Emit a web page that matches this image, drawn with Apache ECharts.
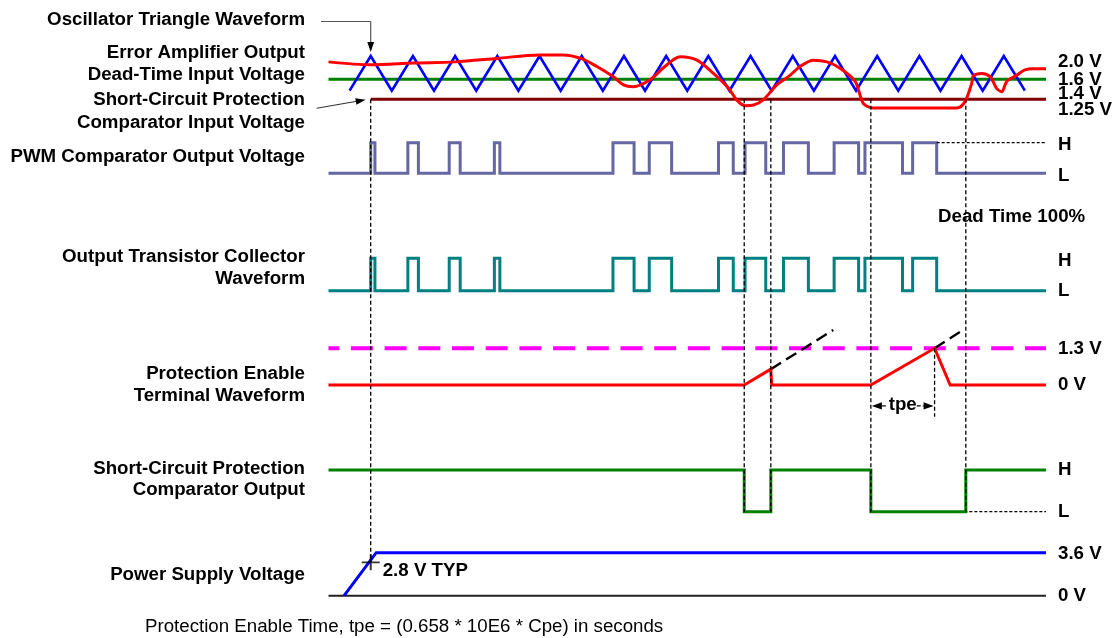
<!DOCTYPE html>
<html><head><meta charset="utf-8">
<script src="https://cdn.jsdelivr.net/npm/echarts@6/dist/echarts.min.js"></script>
<style>html,body{margin:0;padding:0;background:#fff}#c{width:1115px;height:638px}</style>
</head><body><div id="c"></div>
<script>
// ---------------- DATA (time in oscillator periods, levels in volts or logic 0/1) ----------------
const T_END = 17;
const oscT = [0.5,1,1.5,2,2.5,3,3.5,4,4.5,5,5.5,6,6.5,7,7.5,8,8.5,9,9.5,10,10.5,11,11.5,12,12.5,13,13.5,14,14.5,15,15.5,16,16.5];
const oscV = [1.4,2.0,1.4,2.0,1.4,2.0,1.4,2.0,1.4,2.0,1.4,2.0,1.4,2.0,1.4,2.0,1.4,2.0,1.4,2.0,1.4,2.0,1.4,2.0,1.4,2.0,1.4,2.0,1.4,2.0,1.4,2.0,1.4];
const errAmpT = [0,1.0,2.01,3.0,3.99,4.99,5.56,5.98,6.36,6.75,6.99,7.22,7.62,7.97,8.33,8.73,9.12,9.47,9.67,9.87,10.07,10.30,10.62,10.94,11.17,11.49,11.81,12.12,12.48,12.67,12.91,14.89,15.08,15.24,15.28,15.48,15.68,15.83,15.95,16.07,16.31,16.50,16.70,17.0];
const errAmpV = [1.90,1.85,1.88,1.90,1.96,2.02,2.02,1.96,1.82,1.64,1.50,1.47,1.59,1.82,1.99,1.93,1.70,1.45,1.24,1.14,1.15,1.24,1.50,1.67,1.82,1.93,1.90,1.79,1.56,1.18,1.10,1.10,1.21,1.53,1.66,1.70,1.64,1.44,1.38,1.56,1.67,1.76,1.78,1.78];
const deadTimeV = 1.6;
const scpInputV = 1.25;
const scpInputStart = 1.0;
const pwmPulses = [[1.00,1.10],[1.88,2.13],[2.86,3.12],[3.93,4.06],[6.74,7.24],[7.60,8.13],[9.24,9.59],[9.87,10.36],[10.78,11.37],[11.98,12.56],[12.71,13.60],[13.84,14.41]];
const outPulses = [[1.00,1.10],[1.88,2.13],[2.86,3.12],[3.93,4.06],[6.74,7.24],[7.60,8.13],[9.24,9.59],[9.87,10.36],[10.78,11.37],[11.98,12.56],[12.71,13.60],[13.84,14.41]];
const deadTimeStart = 14.41;
const peThresholdV = 1.3;
const peT = [0,9.85,10.48,10.50,12.85,14.36,14.73,17];
const peV = [0,0,0.56,0,0,1.3,0,0];
const peExt1 = [[10.48,0.56],[11.96,1.95]];
const peExt2 = [[14.36,1.3],[15.04,1.95]];
const tpeSpan = [12.85,14.36];
const tpeLevel = -0.74;
const scoT = [0,9.85,9.85,10.48,10.48,12.85,12.85,15.10,15.10,17];
const scoV = [1,1,0,0,1,1,0,0,1,1];
const scoDashedFrom = 14.71;
const psT = [0.37,1.13,17];
const psV = [0,3.6,3.6];
const psTyp = [1.0,2.8];
// guide lines: time, [lane, value] start, [lane, value] end
const guides = [
  [1.00,[0,1.25],[5,2.8]],
  [9.85,[0,1.25],[4,0]],
  [10.48,[0,1.25],[4,0]],
  [12.85,[0,1.25],[4,0]],
  [15.10,[0,1.25],[4,0]],
  [14.36,[3,1.3],[3,-1.12]]
];
const leftLabels = [
  ['Oscillator Triangle Waveform',20],['Error Amplifier Output',53],['Dead-Time Input Voltage',75],
  ['Short-Circuit Protection',100],['Comparator Input Voltage',122.5],['PWM Comparator Output Voltage',157],
  ['Output Transistor Collector',256.5],['Waveform',278.5],['Protection Enable',374],['Terminal Waveform',395.5],
  ['Short-Circuit Protection',468.5],['Comparator Output',489.5],['Power Supply Voltage',575]
];
const rightLabels = [
  ['2.0 V',61.5],['1.6 V',79.5],['1.4 V',94],['1.25 V',110],['H',145],['L',176],['H',260.5],['L',290.5],
  ['1.3 V',348.5],['0 V',385],['H',470],['L',512],['3.6 V',553.5],['0 V',595.5]
];
const noteText = 'Protection Enable Time, tpe = (0.658 * 10E6 * Cpe) in seconds';

// ---------------- LAYOUT ----------------
const FONT = '"Liberation Sans", Arial, Helvetica, sans-serif';
const FS = 18.7;
const W = 1115, X0 = 328.5, X1 = 1046;
const lanes = [
  {top:44.6, bottom:113.7, min:1.0, max:2.2},
  {top:142.7, bottom:173.3, min:0, max:1},
  {top:258.3, bottom:290.7, min:0, max:1},
  {top:328.5, bottom:418.9, min:-1.2, max:2.0},
  {top:470, bottom:511.7, min:0, max:1},
  {top:552.7, bottom:595.7, min:0, max:3.6}
];
const zip = (a,b) => a.map((v,i)=>[v,b[i]]);
function pulsesToData(p){
  const d=[[0,0]];
  p.forEach(([a,b])=>{d.push([a,0],[a,1],[b,1],[b,0]);});
  d.push([T_END,0]);
  return d;
}
function L(idx, data, color, width, extra){
  return Object.assign({type:'line', xAxisIndex:idx, yAxisIndex:idx, data, symbol:'none', clip:false,
    silent:true, lineStyle:{color, width, cap:'butt', join:'miter'}}, extra||{});
}

const chart = echarts.init(document.getElementById('c'), null, {renderer:'canvas'});
const series = [
  L(0, [[0,deadTimeV],[T_END,deadTimeV]], '#008000', 3),
  L(0, [[scpInputStart,scpInputV],[T_END,scpInputV]], '#800000', 3),
  L(0, zip(oscT,oscV), '#0000FF', 2.6),
  L(0, zip(errAmpT,errAmpV), '#FF0000', 3, {smooth:0.3}),
  L(1, pulsesToData(pwmPulses), '#6666A3', 3),
  L(1, [[deadTimeStart,1],[T_END,1]], '#000', 1.2, {lineStyle:{color:'#000',width:1.2,type:[3,2]}}),
  L(2, pulsesToData(outPulses), '#008080', 3),
  L(3, [[0,peThresholdV],[T_END,peThresholdV]], '#FF00FF', 4, {lineStyle:{color:'#FF00FF',width:4,type:[22,11.7],dashOffset:11.3}}),
  L(3, peExt1, '#000', 2.4, {lineStyle:{color:'#000',width:2.4,type:[12,6]}}),
  L(3, peExt2, '#000', 2.4, {lineStyle:{color:'#000',width:2.4,type:[12,6]}}),
  L(3, zip(peT,peV), '#FF0000', 3),
  L(4, [[scoDashedFrom,0],[T_END,0]], '#000', 1.2, {lineStyle:{color:'#000',width:1.2,type:[3,2]}}),
  L(4, zip(scoT,scoV), '#008000', 3),
  L(5, [[0,0],[T_END,0]], '#222', 2),
  L(5, zip(psT,psV), '#0000FF', 3),
  {type:'scatter', xAxisIndex:5, yAxisIndex:5, data:[psTyp], silent:true,
   symbol:'path://M4.45,0H5.55V4.45H10V5.55H5.55V10H4.45V5.55H0V4.45H4.45Z', symbolSize:[18,16],
   itemStyle:{color:'#000'}, z:5}
];
chart.setOption({
  animation:false,
  backgroundColor:'#fff',
  grid: lanes.map(l=>({left:X0, right:W-X1, top:l.top, height:l.bottom-l.top, containLabel:false})),
  xAxis: lanes.map((l,i)=>({type:'value', gridIndex:i, min:0, max:T_END, show:false})),
  yAxis: lanes.map((l,i)=>({type:'value', gridIndex:i, min:l.min, max:l.max, show:false})),
  series
});

// ---------------- ANNOTATIONS (positions from the library's scales) ----------------
const px = (lane, t, v) => chart.convertToPixel({gridIndex:lane}, [t, v]);
function text(x, y, s, align, bold){
  return {type:'text', x:0, y:0, z:10, silent:true, style:{x, y, text:s, fill:'#000',
    font:(bold===false?'':'bold ')+FS+'px '+FONT, align:align, textAlign:align,
    verticalAlign:'middle', textVerticalAlign:'middle'}};
}
function seg(x1,y1,x2,y2,stroke,lw,dash){
  return {type:'line', z:8, silent:true, shape:{x1,y1,x2,y2}, style:{stroke, lineWidth:lw, lineDash:dash||null}};
}
function head(tx,ty,dx,dy,len,hw){
  const n=Math.hypot(dx,dy), ux=dx/n, uy=dy/n;
  const bx=tx-ux*len, by=ty-uy*len;
  return {type:'polygon', z:9, silent:true, shape:{points:[[tx,ty],[bx-uy*hw,by+ux*hw],[bx+uy*hw,by-ux*hw]]}, style:{fill:'#000'}};
}
const g = [];
guides.forEach(([t,a,b])=>{
  const p1 = px(a[0], t, a[1]), p2 = px(b[0], t, b[1]);
  g.push(seg(p1[0],p1[1],p2[0],p2[1],'#000',1.3,[4,2.5]));
});
// oscillator callout arrow
const oscTip = px(0, 1, 2.0);
g.push(seg(321, 21.5, oscTip[0], 21.5, '#555', 1.2));
g.push(seg(oscTip[0], 21.5, oscTip[0], oscTip[1]-12, '#555', 1.2));
g.push(head(oscTip[0], oscTip[1]-4, 0, 1, 10, 3.4));
// short-circuit input callout arrow
const scpTip = px(0, scpInputStart, scpInputV);
const sx = 316.7, sy = 108.3, tx = scpTip[0]-5, ty = scpTip[1]+0.5;
g.push(seg(sx, sy, tx-(tx-sx)*0.15, ty-(ty-sy)*0.15, '#333', 1.1));
g.push(head(tx, ty, tx-sx, ty-sy, 10, 3.3));
// tpe dimension
const tL = px(3, tpeSpan[0], tpeLevel), tR = px(3, tpeSpan[1], tpeLevel);
const mid = (tL[0]+tR[0])/2;
g.push(head(tL[0]+1, tL[1], -1, 0, 10, 3.6));
g.push(head(tR[0]-1, tR[1], 1, 0, 10, 3.6));
g.push(seg(tL[0]+11, tL[1], mid-15, tL[1], '#000', 1.2, [4,2]));
g.push(seg(mid+14, tR[1], tR[0]-11, tR[1], '#000', 1.2, [4,2]));
g.push(text(mid, tL[1]-1, 'tpe', 'center'));
// texts
leftLabels.forEach(([s,y])=>g.push(text(305, y, s, 'right')));
rightLabels.forEach(([s,y])=>g.push(text(1058, y, s, 'left')));
g.push(text(938, 216.5, 'Dead Time 100%', 'left'));
const typPt = px(5, psTyp[0], psTyp[1]);
g.push(text(typPt[0]+12, typPt[1]+9, '2.8 V TYP', 'left'));
g.push(text(145, 627, noteText, 'left', false));
chart.setOption({graphic:{elements:g}});
</script>
</body></html>
